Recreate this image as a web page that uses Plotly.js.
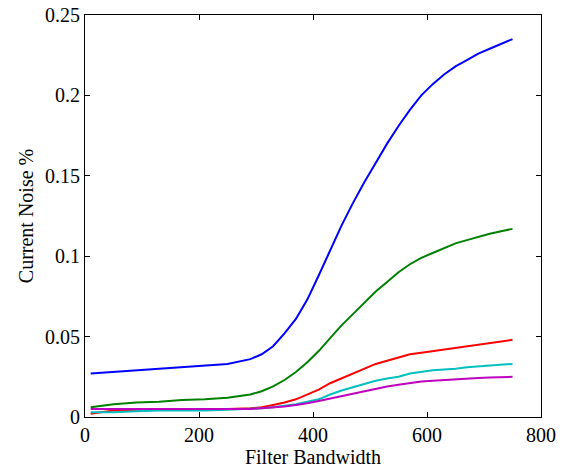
<!DOCTYPE html>
<html>
<head>
<meta charset="utf-8">
<script src="https://cdn.plot.ly/plotly-3.0.1.min.js"></script>
<style>html,body{margin:0;padding:0;background:#fff;}#chart{width:562px;height:470px;}</style>
</head>
<body>
<div id="chart"></div>
<script>
const bandwidth = [10, 50, 90, 130, 170, 210, 250, 290, 310, 330, 350, 370, 390, 410, 430, 450, 470, 490, 510, 530, 550, 570, 590, 610, 630, 650, 670, 690, 710, 730, 750];
const noiseBlue = [0.027, 0.028, 0.029, 0.030, 0.031, 0.032, 0.033, 0.036, 0.039, 0.044, 0.052, 0.061, 0.073, 0.088, 0.104, 0.119, 0.133, 0.146, 0.158, 0.170, 0.181, 0.191, 0.200, 0.207, 0.213, 0.218, 0.222, 0.226, 0.229, 0.232, 0.235];
const noiseGreen = [0.006, 0.008, 0.009, 0.0095, 0.0105, 0.011, 0.012, 0.014, 0.016, 0.019, 0.023, 0.028, 0.034, 0.041, 0.049, 0.057, 0.064, 0.071, 0.078, 0.084, 0.090, 0.095, 0.099, 0.102, 0.105, 0.108, 0.110, 0.112, 0.114, 0.1155, 0.117];
const noiseRed = [0.002, 0.004, 0.0045, 0.005, 0.005, 0.005, 0.005, 0.0055, 0.006, 0.0075, 0.009, 0.011, 0.014, 0.017, 0.021, 0.024, 0.027, 0.030, 0.033, 0.035, 0.037, 0.039, 0.040, 0.041, 0.042, 0.043, 0.044, 0.045, 0.046, 0.047, 0.048];
const noiseCyan = [0.003, 0.003, 0.0035, 0.004, 0.004, 0.004, 0.0045, 0.005, 0.0055, 0.006, 0.007, 0.008, 0.0095, 0.011, 0.014, 0.0165, 0.0185, 0.0205, 0.0225, 0.024, 0.025, 0.027, 0.028, 0.029, 0.0295, 0.030, 0.031, 0.0315, 0.032, 0.0325, 0.033];
const noiseMagenta = [0.005, 0.005, 0.005, 0.005, 0.005, 0.005, 0.005, 0.005, 0.0055, 0.006, 0.0065, 0.0075, 0.0085, 0.010, 0.0115, 0.013, 0.0145, 0.016, 0.0175, 0.019, 0.020, 0.021, 0.022, 0.0225, 0.023, 0.0235, 0.024, 0.0243, 0.0245, 0.0248, 0.025];

const xTicks = [0, 200, 400, 600, 800];
const xTickText = ['0', '200', '400', '600', '800'];
const yTicks = [0, 0.05, 0.1, 0.15, 0.2, 0.25];
const yTickText = ['0', '0.05', '0.1', '0.15', '0.2', '0.25'];

const seriesList = [
  {y: noiseBlue, color: '#0000FF'},
  {y: noiseGreen, color: '#008000'},
  {y: noiseRed, color: '#FF0000'},
  {y: noiseCyan, color: '#00BFBF'},
  {y: noiseMagenta, color: '#BF00BF'}
];

const traces = seriesList.map(s => ({
  x: bandwidth, y: s.y, type: 'scatter', mode: 'lines',
  line: {color: s.color, width: 2}, showlegend: false
}));

const font = {family: '"Liberation Serif", "Times New Roman", serif', size: 20, color: '#000'};

const layout = {
  width: 562, height: 470,
  margin: {l: 85, r: 21, t: 15, b: 53},
  paper_bgcolor: '#fff', plot_bgcolor: '#fff',
  font: font,
  xaxis: {
    range: [0, 800], tickvals: xTicks, ticktext: xTickText,
    showgrid: false, zeroline: false, showline: true, mirror: 'ticks',
    linecolor: '#000', linewidth: 1, ticks: 'inside', ticklen: 5, tickcolor: '#000',
    tickfont: font, automargin: false,
    title: {text: 'Filter Bandwidth', font: font, standoff: 2}
  },
  yaxis: {
    range: [0, 0.25], tickvals: yTicks, ticktext: yTickText,
    showgrid: false, zeroline: false, showline: true, mirror: 'ticks',
    linecolor: '#000', linewidth: 1, ticks: 'inside', ticklen: 5, tickcolor: '#000',
    tickfont: font, automargin: false,
    title: {text: 'Current Noise %', font: font, standoff: 6}
  }
};

Plotly.newPlot('chart', traces, layout, {staticPlot: true, displayModeBar: false});
</script>
</body>
</html>
